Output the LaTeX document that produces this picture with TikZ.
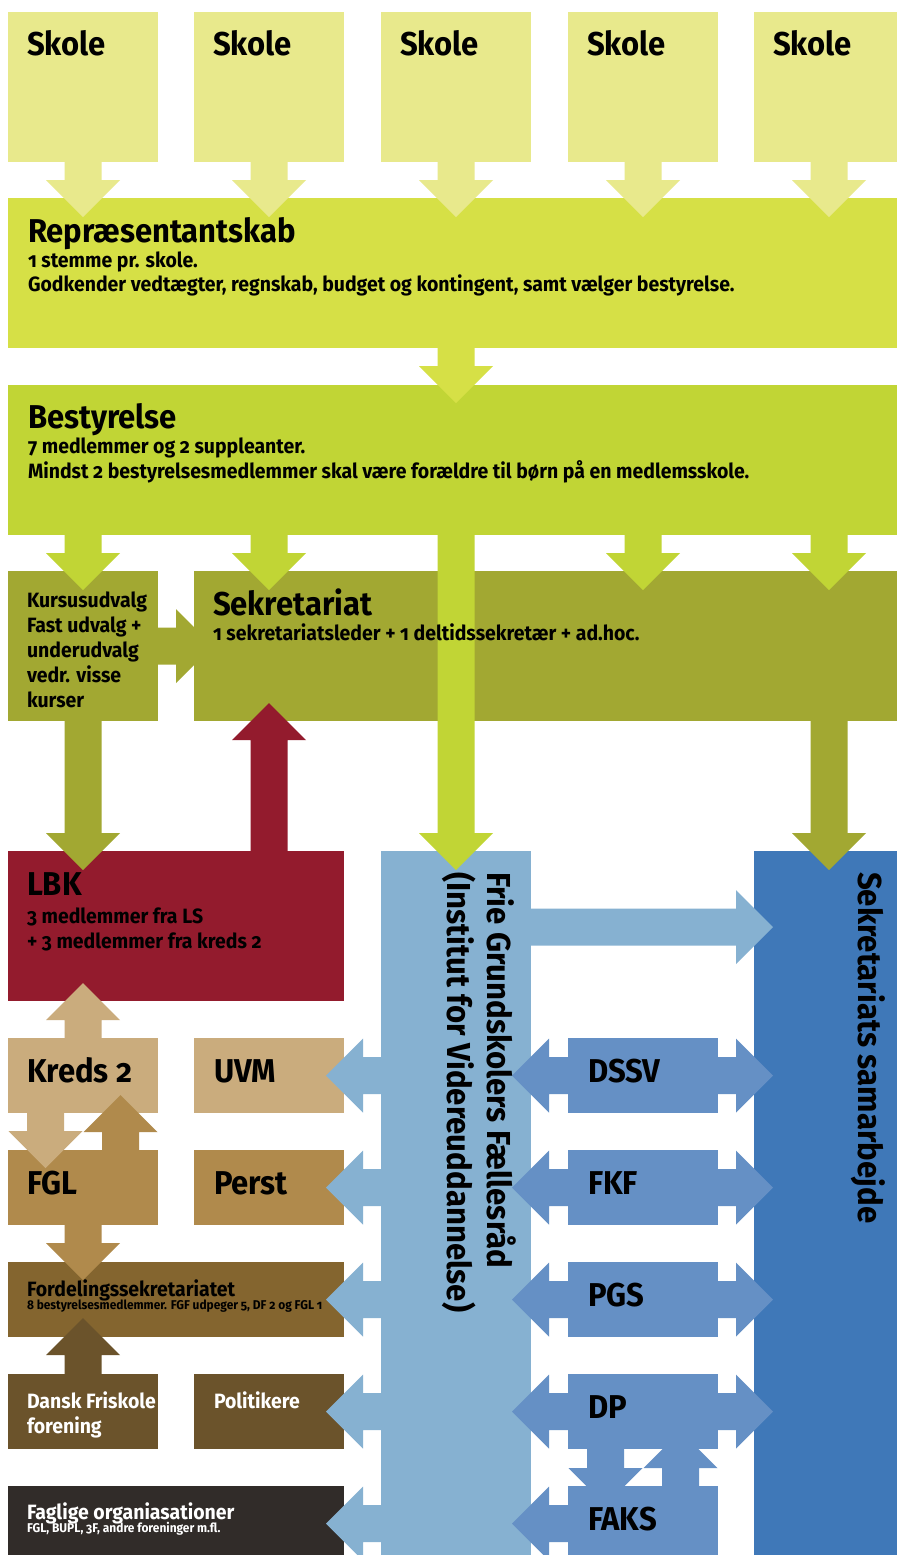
\documentclass[tikz,border=0pt]{standalone}
\usepackage{fontspec}
\setmainfont{Fira Sans}[Numbers=OldStyle, FakeStretch=0.94]
\usetikzlibrary{calc}
\definecolor{cskole}{HTML}{E8E98C}
\definecolor{crep}{HTML}{D6E046}
\definecolor{cbest}{HTML}{C1D535}
\definecolor{csek}{HTML}{A2A832}
\definecolor{clbk}{HTML}{931B2D}
\definecolor{ckreds}{HTML}{CAAC7D}
\definecolor{cfgl}{HTML}{B08A4C}
\definecolor{cforde}{HTML}{84652F}
\definecolor{cdansk}{HTML}{6B532B}
\definecolor{cfag}{HTML}{312C29}
\definecolor{cfrie}{HTML}{86B1D1}
\definecolor{cblue}{HTML}{6590C5}
\definecolor{csam}{HTML}{3F78B8}
\tikzset{
  box/.style={rectangle, inner sep=0pt, outer sep=0pt, anchor=north west,
    minimum width=75pt, minimum height=75pt},
  half/.style={minimum height=37.5pt},
  txt/.style={anchor=base west, inner sep=0pt, outer sep=0pt,
    font=\bfseries\fontsize{10.35}{12}\selectfont},
  big/.style={font=\bfseries\fontsize{16.5}{18}\selectfont},
  tiny/.style={font=\bfseries\fontsize{6.35}{7.5}\selectfont},
  light/.style={text=white},
  vert/.style={anchor=base west, inner sep=0pt, outer sep=0pt, rotate=-90,
    font=\bfseries\fontsize{16.6}{18}\selectfont},
}
% block arrows: colour, start point, tip point
\newcommand\blkdown[3]{\fill[#1] let \p1=#2, \p2=#3 in
  (\x1-9.25pt,\y1) -- (\x1-9.25pt,\y2+18.5pt) -- (\x1-18.5pt,\y2+18.5pt) -- (\x1,\y2)
  -- (\x1+18.5pt,\y2+18.5pt) -- (\x1+9.25pt,\y2+18.5pt) -- (\x1+9.25pt,\y1) -- cycle;}
\newcommand\blkup[3]{\fill[#1] let \p1=#2, \p2=#3 in
  (\x1-9.25pt,\y1) -- (\x1-9.25pt,\y2-18.5pt) -- (\x1-18.5pt,\y2-18.5pt) -- (\x1,\y2)
  -- (\x1+18.5pt,\y2-18.5pt) -- (\x1+9.25pt,\y2-18.5pt) -- (\x1+9.25pt,\y1) -- cycle;}
\newcommand\blkleft[3]{\fill[#1] let \p1=#2, \p2=#3 in
  (\x1,\y1-9.25pt) -- (\x2+18.5pt,\y1-9.25pt) -- (\x2+18.5pt,\y1-18.5pt) -- (\x2,\y1)
  -- (\x2+18.5pt,\y1+18.5pt) -- (\x2+18.5pt,\y1+9.25pt) -- (\x1,\y1+9.25pt) -- cycle;}
\newcommand\blkright[3]{\fill[#1] let \p1=#2, \p2=#3 in
  (\x1,\y1-9.25pt) -- (\x2-18.5pt,\y1-9.25pt) -- (\x2-18.5pt,\y1-18.5pt) -- (\x2,\y1)
  -- (\x2-18.5pt,\y1+18.5pt) -- (\x2-18.5pt,\y1+9.25pt) -- (\x1,\y1+9.25pt) -- cycle;}
\begin{document}
\begin{tikzpicture}[x=0.5pt,y=-0.5pt]
\path[use as bounding box, clip] (0,0) rectangle (897,1555);
\fill[white] (0,0) rectangle (897,1555);
% ---------- boxes ----------
\node[box, fill=cskole] (s1) at (8,12) {};
\node[box, fill=cskole] (s2) at (194,12) {};
\node[box, fill=cskole] (s3) at (381,12) {};
\node[box, fill=cskole] (s4) at (568,12) {};
\node[box, fill=cskole] (s5) at (754,12) {};
\node[box, fill=crep, minimum width=448pt] (rep) at (8,198) {};
\node[box, fill=cbest, minimum width=448pt] (best) at (8,385) {};
\node[box, fill=csek] (kurs) at (8,571) {};
\node[box, fill=csek, minimum width=355pt] (sek) at (194,571) {};
\node[box, fill=clbk, minimum width=168pt] (lbk) at (8,851) {};
\node[box, fill=cfrie, minimum height=355pt] (frie) at (381,851) {};
\node[box, fill=csam, minimum height=355pt] (sam) at (754,851) {};
\node[box, half, fill=ckreds] (kreds) at (8,1038) {};
\node[box, half, fill=ckreds] (uvm) at (194,1038) {};
\node[box, half, fill=cfgl] (fgl) at (8,1150) {};
\node[box, half, fill=cfgl] (perst) at (194,1150) {};
\node[box, half, fill=cforde, minimum width=168pt] (forde) at (8,1262) {};
\node[box, half, fill=cdansk] (dansk) at (8,1374) {};
\node[box, half, fill=cdansk] (pol) at (194,1374) {};
\node[box, half, fill=cfag, minimum width=168pt] (fag) at (8,1486) {};
\node[box, half, fill=cblue] (dssv) at (568,1038) {};
\node[box, half, fill=cblue] (fkf) at (568,1150) {};
\node[box, half, fill=cblue] (pgs) at (568,1262) {};
\node[box, half, fill=cblue] (dp) at (568,1374) {};
\node[box, half, fill=cblue] (faks) at (568,1486) {};
\coordinate (friesam) at ($(frie.north east)+(0,76)$);
% ---------- arrows ----------
\foreach \s in {s1,s2,s3,s4,s5}{\blkdown{cskole}{(\s.south)}{($(rep.north)+(0,19)$)}}
\blkdown{crep}{(s3 |- rep.south)}{($(best.north)+(0,18)$)}
\foreach \s in {s2,s4,s5}{\blkdown{cbest}{(\s |- best.south)}{($(sek.north)+(0,19)$)}}
\blkdown{cbest}{(kurs |- best.south)}{($(kurs.north)+(0,19)$)}
\blkdown{cbest}{(s3 |- best.south)}{($(frie.north)+(0,19)$)}
\blkright{csek}{(kurs.east)}{($(sek.west)+(19,0)$)}
\blkdown{csek}{(kurs.south)}{($(lbk.north)+(0,19)$)}
\blkdown{csek}{(s5 |- sek.south)}{($(sam.north)+(0,19)$)}
\blkup{clbk}{(s2 |- lbk.north)}{($(sek.south)+(0,-18)$)}
\blkup{ckreds}{(kreds.north)}{($(lbk.south)+(0,-18)$)}
\blkdown{ckreds}{($(kreds.south)+(-37.5,0)$)}{($(fgl.north)+(0,18)$)}
\blkup{cfgl}{($(fgl.north)+(37.5,0)$)}{($(kreds.south)+(0,-18)$)}
\blkdown{cfgl}{(fgl.south)}{($(forde.north)+(0,18)$)}
\blkup{cdansk}{(dansk.north)}{($(forde.south)+(0,-19)$)}
\foreach \t in {uvm,perst,forde,pol,fag}{\blkleft{cfrie}{(frie.west |- \t.east)}{($(\t.east)+(-18,0)$)}}
\blkright{cfrie}{(friesam)}{($(sam.west)+(19,0)$)}
\foreach \b in {dssv,fkf,pgs,dp,faks}{\blkleft{cblue}{(\b.west)}{($(frie.east)+(-19,0)$)}}
\foreach \b in {dssv,fkf,pgs,dp}{\blkright{cblue}{(\b.east)}{($(sam.west)+(19,0)$)}}
\blkdown{cblue}{($(dp.south)+(-37.5,0)$)}{($(faks.north)+(0,19)$)}
\blkup{cblue}{($(faks.north)+(37.5,0)$)}{($(dp.south)+(0,-18)$)}
% ---------- texts ----------
\foreach \s in {s1,s2,s3,s4,s5}{\node[txt,big] (t\s) at ($(\s.north west)+(19,43)$) {Skole};}
\node[txt,big] (trep) at ($(rep.north west)+(20,44)$) {Repræsentantskab};
\node[txt] (trep1) at ($(rep.north west)+(20,69)$) {1 stemme pr. skole.};
\node[txt] (trep2) at ($(rep.north west)+(20,93)$) {Godkender vedtægter, regnskab, budget og kontingent, samt vælger bestyrelse.};
\node[txt,big] (tbest) at ($(best.north west)+(20,43)$) {Bestyrelse};
\node[txt] (tbest1) at ($(best.north west)+(20,68)$) {7 medlemmer og 2 suppleanter.};
\node[txt] (tbest2) at ($(best.north west)+(20,93)$) {Mindst 2 bestyrelsesmedlemmer skal være forældre til børn på en medlemsskole.};
\node[txt] (tk1) at ($(kurs.north west)+(19,36)$) {Kursusudvalg};
\node[txt] (tk2) at ($(kurs.north west)+(19,61)$) {Fast udvalg +};
\node[txt] (tk3) at ($(kurs.north west)+(19,86)$) {underudvalg};
\node[txt] (tk4) at ($(kurs.north west)+(19,111)$) {vedr. visse};
\node[txt] (tk5) at ($(kurs.north west)+(19,136)$) {kurser};
\node[txt,big] (tsek) at ($(sek.north west)+(19,44)$) {Sekretariat};
\node[txt] (tsek1) at ($(sek.north west)+(19,69)$) {1 sekretariatsleder + 1 deltidssekretær + ad.hoc.};
\node[txt,big] (tlbk) at ($(lbk.north west)+(19,44)$) {LBK};
\node[txt] (tlbk1) at ($(lbk.north west)+(19,72)$) {3 medlemmer fra LS};
\node[txt] (tlbk2) at ($(lbk.north west)+(19,97)$) {+ 3 medlemmer fra kreds 2};
\node[txt,big] (tkreds) at ($(kreds.north west)+(19,44)$) {Kreds 2};
\node[txt,big] (tuvm) at ($(uvm.north west)+(20,44)$) {UVM};
\node[txt,big] (tfgl) at ($(fgl.north west)+(19,44)$) {FGL};
\node[txt,big] (tperst) at ($(perst.north west)+(20,44)$) {Perst};
\node[txt] (tforde) at ($(forde.north west)+(19,34)$) {Fordelingssekretariatet};
\node[txt,tiny] (tforde1) at ($(forde.north west)+(19,47)$) {8 bestyrelsesmedlemmer. FGF udpeger 5, DF 2 og FGL 1};
\node[txt,light] (tdansk1) at ($(dansk.north west)+(19,34)$) {Dansk Friskole};
\node[txt,light] (tdansk2) at ($(dansk.north west)+(19,59)$) {forening};
\node[txt,light] (tpol) at ($(pol.north west)+(20,34)$) {Politikere};
\node[txt,light] (tfag) at ($(fag.north west)+(19,33)$) {Faglige organiasationer};
\node[txt,tiny,light] (tfag1) at ($(fag.north west)+(19,46)$) {FGL, BUPL, 3F, andre foreninger m.fl.};
\foreach \b/\l in {dssv/DSSV,fkf/FKF,pgs/PGS,dp/DP,faks/FAKS}{\node[txt,big] (t\b) at ($(\b.north west)+(20,44)$) {\l};}
\node[vert] (tfrie1) at (487,872) {Frie Grundskolers Fællesråd};
\node[vert] (tfrie2) at (447,872) {(Institut for Videreuddannelse)};
\node[vert] (tsam) at (858,872) {Sekretariats samarbejde};
\end{tikzpicture}
\end{document}
